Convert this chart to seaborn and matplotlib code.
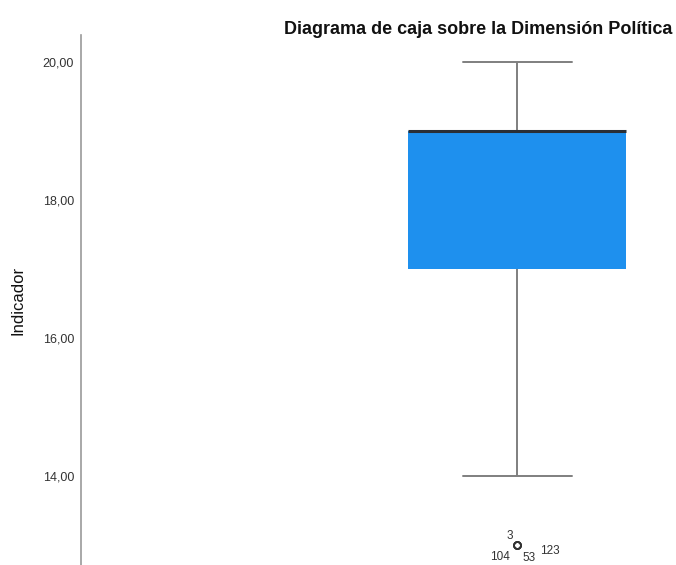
import numpy as np
import pandas as pd
import matplotlib
matplotlib.use("Agg")
import matplotlib.pyplot as plt
import seaborn as sns

# ---- data (values of the indicator and how many cases have each) ----
values = [13, 14, 15, 16, 17, 18, 19, 20]
counts = [4, 3, 5, 10, 20, 20, 40, 25]
outlier_labels = ["3", "104", "53", "123"]
yticks = [14, 16, 18, 20]
ytick_labels = ["14,00", "16,00", "18,00", "20,00"]
title = "Diagrama de caja sobre la Dimensión Política"
ylabel = "Indicador"

data = pd.DataFrame({"Indicador": np.repeat(values, counts)})

sns.set_style("white")
plt.rcParams["font.family"] = ["Liberation Sans", "DejaVu Sans"]

fig = plt.figure(figsize=(6.76, 5.65), dpi=100)
ax = fig.add_axes([81 / 676, 0.0, 1 - 81 / 676, 1 - 35 / 565])

sns.boxplot(
    data=data, y="Indicador", ax=ax, width=0.8, whis=1.5,
    color="#1E90EE", saturation=1,
    boxprops=dict(facecolor="#1E90EE", edgecolor="#1E90EE", linewidth=0),
    medianprops=dict(color="#2a2f36", linewidth=2.2),
    whiskerprops=dict(color="#7f7f7f", linewidth=1.4),
    capprops=dict(color="#7f7f7f", linewidth=1.4),
    flierprops=dict(marker="o", markersize=5, markerfacecolor="none",
                    markeredgecolor="#333333", markeredgewidth=1.2),
)

ax.set_xlim(-1.6, 0.583)
ax.set_ylim(12.71, 20.39)
ax.set_yticks(yticks)
ax.set_yticklabels(ytick_labels, fontsize=9, color="#333333")
ax.tick_params(axis="y", length=0, pad=5)
ax.set_xticks([])
ax.set_xlabel("")
ax.set_ylabel(ylabel, fontsize=12, color="#111111")
ax.yaxis.set_label_coords(-55 / 595, 0.5)
for s in ["top", "right", "bottom"]:
    ax.spines[s].set_visible(False)
ax.spines["left"].set_color("#9a9a9a")
ax.spines["left"].set_linewidth(1.2)

# outlier case labels
out_val = min(values)
offsets = [(-0.026, 0.13), (-0.062, -0.17), (0.044, -0.19), (0.12, -0.09)]
for lab, (dx, dy) in zip(outlier_labels, offsets):
    ax.text(0 + dx, out_val + dy, lab, fontsize=8.5, ha="center", va="center",
            color="#333333")

fig.text(672 / 676, 1 - 30 / 565, title, fontsize=13, fontweight="bold",
         ha="right", va="center", color="#111111")

fig.savefig("out.png", dpi=100)
